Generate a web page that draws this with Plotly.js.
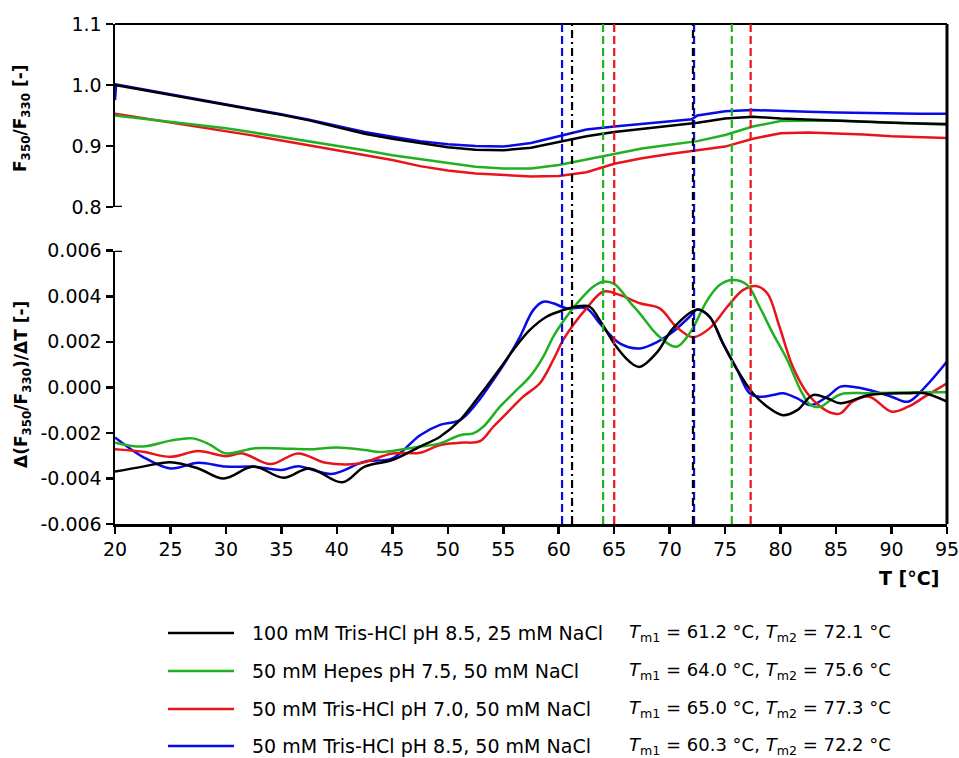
<!DOCTYPE html>
<html>
<head>
<meta charset="utf-8">
<script src="https://cdn.plot.ly/plotly-3.0.1.min.js"></script>
<style>html,body{margin:0;padding:0;background:#fff;}#chart{width:959px;height:758px;}</style>
</head>
<body>
<div id="chart"></div>
<script>
// ---------- DATA ----------
var seriesNames = [
  "100 mM Tris-HCl pH 8.5, 25 mM NaCl",
  "50 mM Hepes pH 7.5, 50 mM NaCl",
  "50 mM Tris-HCl pH 7.0, 50 mM NaCl",
  "50 mM Tris-HCl pH 8.5, 50 mM NaCl"
];
var seriesColors = ["#000000", "#22b022", "#e8141c", "#0a0ae6"];
var tm1 = [61.2, 64.0, 65.0, 60.3];
var tm2 = [72.1, 75.6, 77.3, 72.2];

// Top panel: F350/F330 ratio
var topT = [20, 22.5, 25, 27.5, 30, 32.5, 35, 37.5, 40, 42.5, 45, 47.5, 50, 52.5, 55, 57.5, 60, 62.5, 65, 67.5, 70, 72.5, 75, 77.5, 80, 82.5, 85, 87.5, 90, 92.5, 95];
var topBlack = [1.000, 0.992, 0.984, 0.976, 0.967, 0.959, 0.951, 0.942, 0.931, 0.920, 0.912, 0.905, 0.898, 0.894, 0.893, 0.897, 0.907, 0.916, 0.923, 0.928, 0.932, 0.938, 0.945, 0.948, 0.945, 0.943, 0.942, 0.940, 0.938, 0.937, 0.936];
var topGreen = [0.950, 0.945, 0.940, 0.935, 0.929, 0.922, 0.915, 0.908, 0.900, 0.893, 0.885, 0.879, 0.872, 0.866, 0.863, 0.863, 0.869, 0.878, 0.888, 0.896, 0.902, 0.908, 0.918, 0.932, 0.941, 0.942, 0.942, 0.940, 0.938, 0.936, 0.935];
var topRed = [0.953, 0.946, 0.939, 0.932, 0.925, 0.917, 0.909, 0.901, 0.893, 0.886, 0.877, 0.867, 0.860, 0.855, 0.852, 0.850, 0.851, 0.857, 0.871, 0.880, 0.887, 0.893, 0.899, 0.912, 0.921, 0.922, 0.921, 0.919, 0.916, 0.914, 0.913];
var topBlueT = [20, 20.1, 22.5, 25, 27.5, 30, 32.5, 35, 37.5, 40, 42.5, 45, 47.5, 50, 52.5, 55, 57.5, 60, 62.5, 65, 67.5, 70, 72, 72.5, 75, 77.5, 80, 82.5, 85, 87.5, 90, 92.5, 95];
var topBlue = [0.975, 1.001, 0.993, 0.985, 0.977, 0.968, 0.960, 0.952, 0.943, 0.933, 0.923, 0.915, 0.908, 0.903, 0.900, 0.899, 0.905, 0.916, 0.927, 0.932, 0.936, 0.940, 0.944, 0.950, 0.957, 0.959, 0.957, 0.956, 0.955, 0.954, 0.953, 0.953, 0.953];

// Bottom panel: first derivative
var dBlackT = [20, 22.5, 25, 27.5, 29.8, 32.5, 35.2, 37.5, 40.5, 42.5, 45, 47.5, 49.3, 51.1, 52.9, 54.7, 55.9, 57.4, 58.9, 60.4, 61.9, 62.8, 63.7, 65.2, 66.4, 67.3, 68.9, 70.3, 72.5, 73.6, 74.8, 76.1, 77.5, 78.8, 80.2, 81.5, 82.9, 84.2, 85.4, 88, 91.5, 93, 95];
var dBlack = [-0.0037, -0.00348, -0.00329, -0.00356, -0.0040, -0.00348, -0.00397, -0.00356, -0.00417, -0.00348, -0.00319, -0.0026, -0.00217, -0.00144, -0.00034, 0.00083, 0.00164, 0.00252, 0.0031, 0.00339, 0.00357, 0.00354, 0.00295, 0.00178, 0.00112, 0.0009, 0.00156, 0.00259, 0.00342, 0.0031, 0.00193, 0.00076, -0.00026, -0.00085, -0.00122, -0.001, -0.00034, -0.00048, -0.0007, -0.00034, -0.00026, -0.00026, -0.00063];

var dGreenT = [20, 22.5, 25, 27, 28.5, 30, 32.5, 35, 37.5, 40, 42.5, 44, 47.5, 49.3, 51.1, 52.3, 53.2, 54.7, 55.9, 57.4, 58.6, 59.5, 60.7, 61.9, 63.1, 64, 65, 66.5, 67.3, 68.9, 70.6, 71.8, 73.4, 74.5, 75.7, 77, 78.1, 79.3, 80.6, 81.8, 82.7, 83.6, 84.5, 85.5, 88, 92, 95];
var dGreen = [-0.00243, -0.0026, -0.00234, -0.00224, -0.0025, -0.0029, -0.00268, -0.00268, -0.00272, -0.00264, -0.00275, -0.00284, -0.0026, -0.00246, -0.0021, -0.00202, -0.00173, -0.00085, -0.00026, 0.00047, 0.00134, 0.00222, 0.0031, 0.00383, 0.00442, 0.00464, 0.00454, 0.00369, 0.00325, 0.0023, 0.00178, 0.00237, 0.00383, 0.00449, 0.00471, 0.00449, 0.00354, 0.00237, 0.0012, -0.00012, -0.00078, -0.00085, -0.00056, -0.00029, -0.00026, -0.00022, -0.00022];

var dRedT = [20, 22.5, 25, 27.5, 30, 31.5, 34, 36.5, 39, 42, 45, 47.5, 49.3, 51.1, 52.9, 54.1, 55.3, 56.8, 58.3, 59.5, 60.4, 61.3, 62.5, 64, 65.5, 67.3, 69.1, 70.6, 72.1, 73.6, 75.2, 76.6, 77.8, 78.8, 79.9, 81.1, 82.4, 83.6, 84.7, 85.4, 86.5, 88, 90, 91.5, 93, 95];
var dRed = [-0.00272, -0.00283, -0.00305, -0.0028, -0.00302, -0.0029, -0.00337, -0.0029, -0.00331, -0.00334, -0.0029, -0.00287, -0.00253, -0.00243, -0.00236, -0.00173, -0.00114, -0.00041, 0.00018, 0.0012, 0.00208, 0.00274, 0.00347, 0.0042, 0.00406, 0.00369, 0.00347, 0.00266, 0.0022, 0.00259, 0.00354, 0.00427, 0.00445, 0.00413, 0.00266, 0.0009, -0.00026, -0.00085, -0.00114, -0.00114, -0.00063, -0.00041, -0.00107, -0.00085, -0.00041, 0.00018];

var dBlueT = [20, 22.5, 25, 27.5, 30, 32.5, 35, 36.5, 39.5, 42.5, 45, 47.5, 49.3, 51.1, 52.6, 54.1, 55.3, 56.5, 57.7, 58.6, 59.5, 60.7, 62.5, 63.7, 65.5, 67.3, 68.9, 70.3, 71.8, 72.5, 73.6, 74.8, 76.1, 77.2, 78.1, 79.3, 80.2, 81.5, 82.7, 84.2, 85.4, 86.5, 88, 90, 91.5, 93, 95];
var dBlue = [-0.0022, -0.00305, -0.00356, -0.00331, -0.00348, -0.00348, -0.00363, -0.00346, -0.0038, -0.00326, -0.00312, -0.0021, -0.00165, -0.00144, -0.0007, 0.00032, 0.0012, 0.00222, 0.00339, 0.00376, 0.00369, 0.00347, 0.00347, 0.00281, 0.00193, 0.00171, 0.002, 0.00244, 0.0031, 0.00342, 0.0031, 0.00193, 0.00076, -0.00026, -0.00041, -0.00034, -0.00026, -0.00048, -0.00078, -0.00041, 0.00003, 0.00003, -0.00012, -0.00041, -0.00063, 0, 0.00113];

var xTickVals = [20, 25, 30, 35, 40, 45, 50, 55, 60, 65, 70, 75, 80, 85, 90, 95];
var topTickVals = [0.8, 0.9, 1.0, 1.1];
var topTickText = ["0.8", "0.9", "1.0", "1.1"];
var botTickVals = [-0.006, -0.004, -0.002, 0, 0.002, 0.004, 0.006];
var botTickText = ["-0.006", "-0.004", "-0.002", "0.000", "0.002", "0.004", "0.006"];
var tmTexts = [
  "<i>T</i><sub>m1</sub> = 61.2 °C, <i>T</i><sub>m2</sub> = 72.1 °C",
  "<i>T</i><sub>m1</sub> = 64.0 °C, <i>T</i><sub>m2</sub> = 75.6 °C",
  "<i>T</i><sub>m1</sub> = 65.0 °C, <i>T</i><sub>m2</sub> = 77.3 °C",
  "<i>T</i><sub>m1</sub> = 60.3 °C, <i>T</i><sub>m2</sub> = 72.2 °C"
];

// ---------- LAYOUT HELPERS ----------
var W = 959, H = 758;
var mL = 115, mR = 12, mT = 24, mB = 234;
var pw = W - mL - mR, ph = H - mT - mB;
function px2x(p) { return (p - mL) / pw; }
function px2y(p) { return (H - mB - p) / ph; }

var FONT = "DejaVu Sans, Liberation Sans, Arial, sans-serif";
var lw = 2.5;

var topSets = [[topT, topBlack], [topT, topGreen], [topT, topRed], [topBlueT, topBlue]];
var botSets = [[dBlackT, dBlack], [dGreenT, dGreen], [dRedT, dRed], [dBlueT, dBlue]];
var drawOrder = [3, 2, 1, 0];

var traces = [];
drawOrder.forEach(function (i) {
  traces.push({
    x: topSets[i][0], y: topSets[i][1], type: "scatter", mode: "lines",
    xaxis: "x", yaxis: "y2", showlegend: false, hoverinfo: "skip",
    line: { color: seriesColors[i], width: lw }
  });
});
drawOrder.forEach(function (i) {
  traces.push({
    x: botSets[i][0], y: botSets[i][1], type: "scatter", mode: "lines",
    xaxis: "x", yaxis: "y", showlegend: false, hoverinfo: "skip",
    line: { color: seriesColors[i], width: lw, shape: "spline", smoothing: 1 }
  });
});

var shapes = [];
// frame: top line and right line
shapes.push({ type: "line", xref: "paper", yref: "paper", x0: 0, x1: 1, y0: 1, y1: 1, line: { color: "#000", width: 2 } });
shapes.push({ type: "line", xref: "paper", yref: "paper", x0: 1, x1: 1, y0: 0, y1: 1, line: { color: "#000", width: 3 } });
// inward end ticks
shapes.push({ type: "line", xref: "paper", yref: "y2", x0: 0, x1: 7 / pw, y0: 0.8, y1: 0.8, line: { color: "#000", width: 2.5 } });
shapes.push({ type: "line", xref: "paper", yref: "y", x0: 0, x1: 7 / pw, y0: 0.006, y1: 0.006, line: { color: "#000", width: 2.5 } });
// Tm lines
[3, 1, 2, 0].forEach(function (i) {
  [tm1[i], tm2[i]].forEach(function (t) {
    shapes.push({
      type: "line", xref: "x", yref: "paper", x0: t, x1: t, y0: 0, y1: 1,
      line: { color: seriesColors[i], width: 2.2, dash: i === 0 ? "8px,4px,2px,4px" : "8px,4px" }
    });
  });
});

var annotations = [];
// legend
var rowY = [633, 671, 709, 746];
seriesNames.forEach(function (name, i) {
  shapes.push({
    type: "line", xref: "paper", yref: "paper",
    x0: px2x(168), x1: px2x(234), y0: px2y(rowY[i]), y1: px2y(rowY[i]),
    line: { color: seriesColors[i], width: 2.5 }
  });
  annotations.push({
    xref: "paper", yref: "paper", x: px2x(250), y: px2y(rowY[i]), xanchor: "left", yanchor: "middle",
    text: name, showarrow: false, font: { family: FONT, size: 19, color: "#000" }
  });
  annotations.push({
    xref: "paper", yref: "paper", x: px2x(627), y: px2y(rowY[i]), xanchor: "left", yanchor: "middle",
    text: tmTexts[i], showarrow: false, font: { family: FONT, size: 18, color: "#000" }
  });
});
// axis titles
annotations.push({
  xref: "paper", yref: "paper", x: px2x(22), y: px2y(118), xanchor: "center", yanchor: "middle", textangle: -90,
  text: "<b>F<sub>350</sub>/F<sub>330</sub> [-]</b>", showarrow: false, font: { family: FONT, size: 17, color: "#000" }
});
annotations.push({
  xref: "paper", yref: "paper", x: px2x(22), y: px2y(385), xanchor: "center", yanchor: "middle", textangle: -90,
  text: "<b>Δ(F<sub>350</sub>/F<sub>330</sub>)/ΔT [-]</b>", showarrow: false, font: { family: FONT, size: 17, color: "#000" }
});
annotations.push({
  xref: "paper", yref: "paper", x: px2x(941), y: px2y(578), xanchor: "right", yanchor: "middle",
  text: "<b>T [°C]</b>", showarrow: false, font: { family: FONT, size: 19, color: "#000" }
});

var axisCommon = {
  showgrid: false, zeroline: false, showline: true, linecolor: "#000", linewidth: 2.5,
  ticks: "outside", ticklen: 7, tickwidth: 2.5, tickcolor: "#000",
  tickfont: { family: FONT, size: 19, color: "#000" }
};

var layout = {
  width: W, height: H,
  margin: { l: mL, r: mR, t: mT, b: mB, pad: 0 },
  paper_bgcolor: "#fff", plot_bgcolor: "#fff",
  showlegend: false,
  xaxis: Object.assign({}, axisCommon, {
    range: [20, 95], tickmode: "array", tickvals: xTickVals, anchor: "y", domain: [0, 1],
    ticklabeloverflow: "allow", automargin: false
  }),
  yaxis: Object.assign({}, axisCommon, {
    range: [-0.006, 0.006], domain: [0, px2y(250.7)], tickmode: "array",
    tickvals: botTickVals, ticktext: botTickText, anchor: "x"
  }),
  yaxis2: Object.assign({}, axisCommon, {
    range: [0.8, 1.1], domain: [px2y(207), 1], tickmode: "array",
    tickvals: topTickVals, ticktext: topTickText, anchor: "x"
  }),
  shapes: shapes,
  annotations: annotations
};

Plotly.newPlot("chart", traces, layout, { staticPlot: true, displayModeBar: false });
</script>
</body>
</html>
